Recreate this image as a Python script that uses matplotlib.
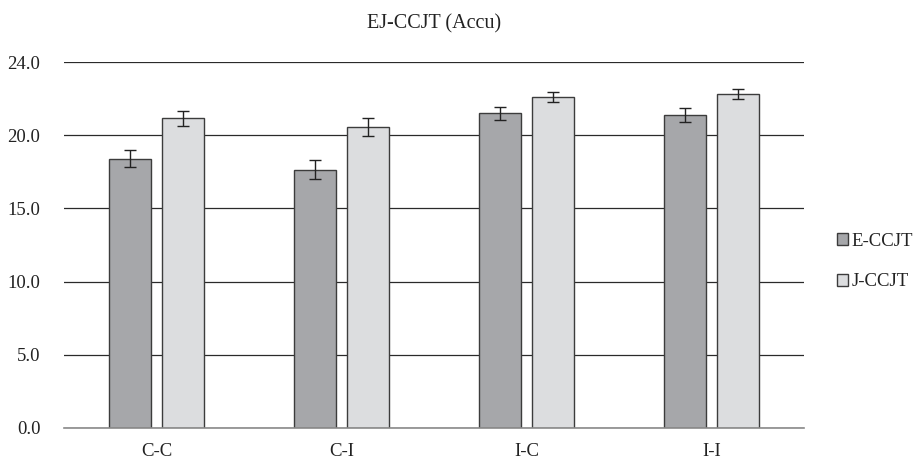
import matplotlib
matplotlib.use("Agg")
import matplotlib.pyplot as plt
import numpy as np
from matplotlib.patches import Patch

plt.rcParams['font.family'] = ['Liberation Serif', 'DejaVu Serif']

categories = ["C-C", "C-I", "I-C", "I-I"]
series_names = ["E-CCJT", "J-CCJT"]
e_values = [18.40, 17.65, 21.51, 21.37]
e_errors = [0.57, 0.65, 0.46, 0.48]
j_values = [21.16, 20.57, 22.63, 22.83]
j_errors = [0.53, 0.63, 0.33, 0.37]
y_ticks = [0, 5, 10, 15, 20, 25]
y_tick_labels = ["0.0", "5.0", "10.0", "15.0", "20.0", "24.0"]

fig = plt.figure(figsize=(9.17, 4.62), dpi=100)
ax = fig.add_axes([0.0698, 0.0742, 0.8070, 0.7910])

x = np.arange(len(categories))
w = 0.227
off = 0.142
colors = ["#a6a7aa", "#dcdddf"]
edge = "#3c3c3c"

ax.bar(x - off, e_values, w, color=colors[0], edgecolor=edge, linewidth=1.0, zorder=3)
ax.bar(x + off, j_values, w, color=colors[1], edgecolor=edge, linewidth=1.0, zorder=3)
ax.errorbar(x - off, e_values, yerr=e_errors, fmt='none', ecolor='#222222',
            elinewidth=1.0, capsize=4, capthick=1.0, zorder=4)
ax.errorbar(x + off, j_values, yerr=j_errors, fmt='none', ecolor='#222222',
            elinewidth=1.0, capsize=4, capthick=1.0, zorder=4)

ax.set_xlim(-0.5, len(categories) - 0.5)
ax.set_ylim(0, 25)
ax.set_yticks(y_ticks)
ax.set_yticklabels(y_tick_labels)
ax.set_xticks(x)
ax.set_xticklabels(categories)
ax.yaxis.grid(True, color='#2a2a2a', linewidth=0.9, zorder=0)
ax.set_axisbelow(True)
for s in ['top', 'right', 'left']:
    ax.spines[s].set_visible(False)
ax.spines['bottom'].set_color('#8a8a8a')
ax.spines['bottom'].set_linewidth(1.2)
ax.spines['bottom'].set_zorder(5)
ax.tick_params(axis='both', length=0, labelsize=13.5, colors='#222222')
ax.tick_params(axis='x', pad=11)
ax.tick_params(axis='y', pad=17)

ax.set_title("EJ-CCJT (Accu)", fontsize=14.5, color='#222222', pad=24)

handles = [Patch(facecolor=colors[0], edgecolor=edge, linewidth=1.0),
           Patch(facecolor=colors[1], edgecolor=edge, linewidth=1.0)]
fig.legend(handles, series_names, loc='center left', bbox_to_anchor=(0.913, 0.434),
           frameon=False, fontsize=13.5, handlelength=0.59, handleheight=0.59,
           handletextpad=0.18, labelspacing=1.27, borderpad=0, borderaxespad=0,
           labelcolor='#222222')

fig.savefig("out.png", dpi=100)
